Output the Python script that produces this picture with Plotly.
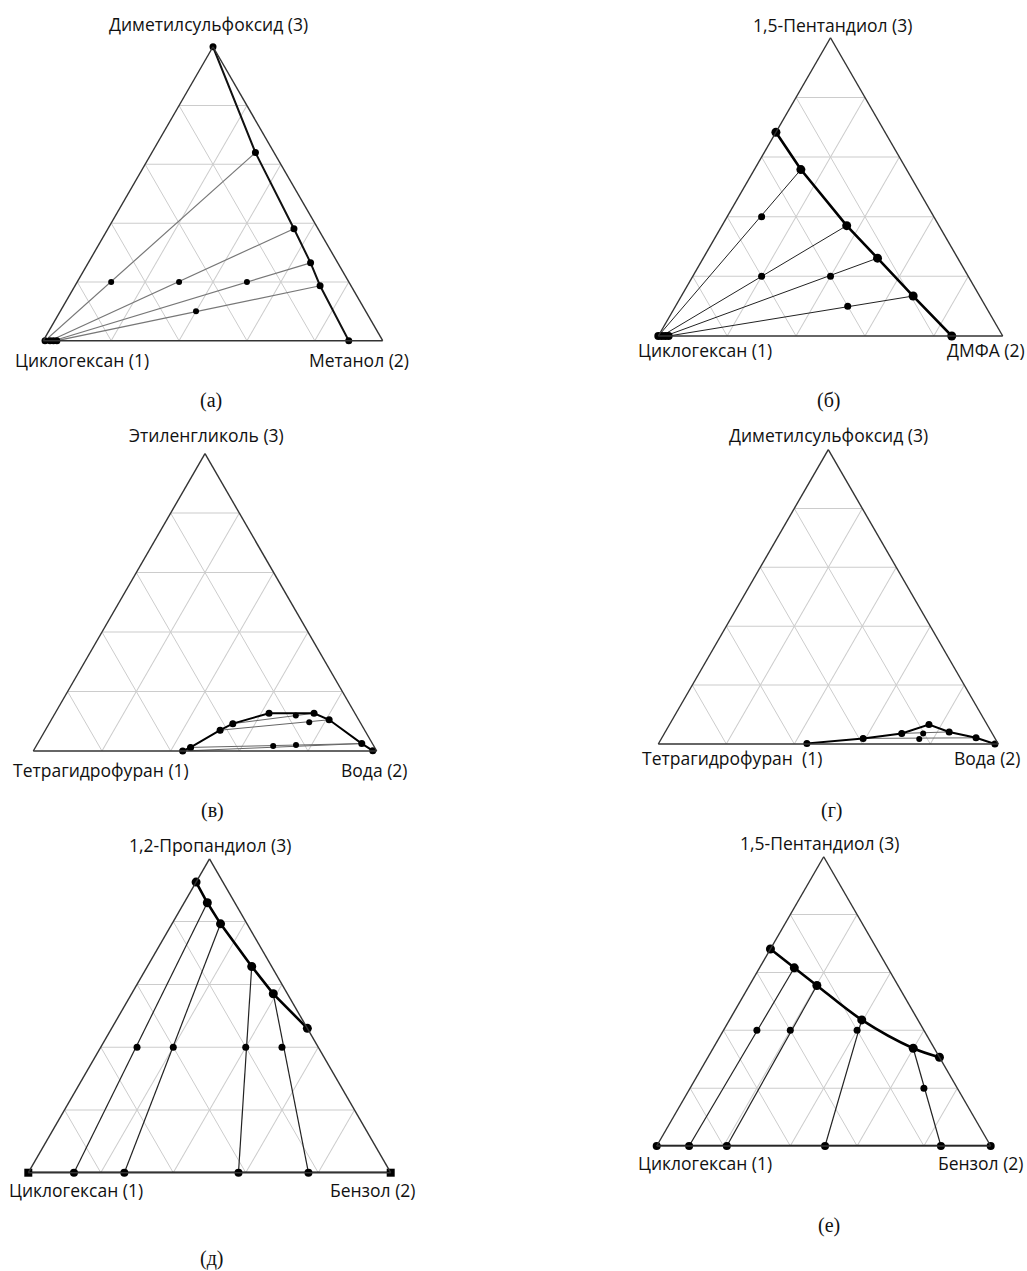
import plotly.graph_objects as go
import math

# ---------------- DATA (compositions as (x1, x2, x3) mole fractions) ----------------
# (а) Циклогексан(1) – Метанол(2) – Диметилсульфоксид(3)
A_BINODAL = [(0.0, 0.0, 1.0), (0.055, 0.305, 0.640), (0.071, 0.548, 0.381),
             (0.080, 0.655, 0.265), (0.091, 0.722, 0.187), (0.100, 0.900, 0.0)]
A_RAFF = [(0.995, 0.005, 0.0), (0.98, 0.02, 0.0), (0.97, 0.03, 0.0), (0.96, 0.04, 0.0)]
A_EXTR = [(0.055, 0.305, 0.640), (0.071, 0.548, 0.381), (0.080, 0.655, 0.265), (0.091, 0.722, 0.187)]
A_FEED = [(0.7, 0.1, 0.2), (0.5, 0.3, 0.2), (0.3, 0.5, 0.2), (0.5, 0.4, 0.1)]

# (б) Циклогексан(1) – ДМФА(2) – 1,5-Пентандиол(3)
B_BINODAL = [(0.317, 0.0, 0.683), (0.307, 0.135, 0.558), (0.268, 0.362, 0.370),
             (0.233, 0.506, 0.261), (0.193, 0.673, 0.134), (0.148, 0.852, 0.0)]
B_RAFF = [(1.0, 0.0, 0.0), (0.99, 0.01, 0.0), (0.98, 0.02, 0.0), (0.97, 0.03, 0.0)]
B_EXTR = [(0.307, 0.135, 0.558), (0.268, 0.362, 0.370), (0.233, 0.506, 0.261), (0.193, 0.673, 0.134)]
B_FEED = [(0.5, 0.1, 0.4), (0.6, 0.2, 0.2), (0.4, 0.4, 0.2), (0.4, 0.5, 0.1)]

# (в) Тетрагидрофуран(1) – Вода(2) – Этиленгликоль(3)
V_BINODAL = [(0.565, 0.435, 0.0), (0.536, 0.452, 0.012), (0.421, 0.509, 0.070),
             (0.373, 0.535, 0.092), (0.250, 0.623, 0.127), (0.119, 0.754, 0.127),
             (0.086, 0.809, 0.105), (0.031, 0.944, 0.025), (0.011, 0.988, 0.001)]
V_RAFF = [(0.565, 0.435, 0.0), (0.536, 0.452, 0.012), (0.421, 0.509, 0.070), (0.373, 0.535, 0.092)]
V_EXTR = [(0.031, 0.944, 0.025), (0.031, 0.944, 0.025), (0.086, 0.809, 0.105), (0.119, 0.754, 0.127)]
V_FEED = [(0.293, 0.690, 0.017), (0.225, 0.755, 0.020), (0.148, 0.755, 0.097), (0.176, 0.705, 0.119)]

# (г) Тетрагидрофуран(1) – Вода(2) – Диметилсульфоксид(3)
G_BINODAL = [(0.562, 0.436, 0.002), (0.388, 0.593, 0.019), (0.266, 0.698, 0.036),
             (0.171, 0.763, 0.066), (0.124, 0.835, 0.041), (0.055, 0.924, 0.021), (0.010, 0.990, 0.0)]
G_RAFF = [(0.388, 0.593, 0.019), (0.266, 0.698, 0.036)]
G_EXTR = [(0.055, 0.924, 0.021), (0.124, 0.835, 0.041)]
G_FEED = [(0.224, 0.759, 0.017), (0.203, 0.761, 0.036)]

# (д) Циклогексан(1) – Бензол(2) – 1,2-Пропандиол(3)
D_BINODAL = [(0.074, 0.0, 0.926), (0.076, 0.064, 0.860), (0.073, 0.134, 0.793),
             (0.055, 0.288, 0.657), (0.039, 0.391, 0.570), (0.0, 0.540, 0.460)]
D_BASE = [(1.0, 0.0, 0.0), (0.874, 0.126, 0.0), (0.735, 0.265, 0.0),
          (0.420, 0.580, 0.0), (0.227, 0.773, 0.0), (0.0, 1.0, 0.0)]
D_RAFF = [(0.874, 0.126, 0.0), (0.735, 0.265, 0.0), (0.420, 0.580, 0.0), (0.227, 0.773, 0.0)]
D_EXTR = [(0.076, 0.064, 0.860), (0.073, 0.134, 0.793), (0.055, 0.288, 0.657), (0.039, 0.391, 0.570)]
D_FEED = [(0.5, 0.1, 0.4), (0.4, 0.2, 0.4), (0.2, 0.4, 0.4), (0.1, 0.5, 0.4)]

# (е) Циклогексан(1) – Бензол(2) – 1,5-Пентандиол(3)
E_BINODAL = [(0.319, 0.0, 0.681), (0.280, 0.104, 0.616), (0.243, 0.202, 0.555),
             (0.168, 0.396, 0.436), (0.063, 0.599, 0.338), (0.0, 0.693, 0.307)]
E_BASE = [(1.0, 0.0, 0.0), (0.903, 0.097, 0.0), (0.790, 0.210, 0.0),
          (0.496, 0.504, 0.0), (0.149, 0.851, 0.0), (0.0, 1.0, 0.0)]
E_RAFF = [(0.903, 0.097, 0.0), (0.790, 0.210, 0.0), (0.496, 0.504, 0.0), (0.149, 0.851, 0.0)]
E_EXTR = [(0.280, 0.104, 0.616), (0.243, 0.202, 0.555), (0.168, 0.396, 0.436), (0.063, 0.599, 0.338)]
E_FEED = [(0.5, 0.1, 0.4), (0.4, 0.2, 0.4), (0.2, 0.4, 0.4), (0.1, 0.7, 0.2)]

# Labels: (top component 3, left component 1, right component 2, caption)
LABELS = [
    ("Диметилсульфоксид (3)", "Циклогексан (1)", "Метанол (2)", "(а)"),
    ("1,5-Пентандиол (3)", "Циклогексан (1)", "ДМФА (2)", "(б)"),
    ("Этиленгликоль (3)", "Тетрагидрофуран (1)", "Вода (2)", "(в)"),
    ("Диметилсульфоксид (3)", "Тетрагидрофуран  (1)", "Вода (2)", "(г)"),
    ("1,2-Пропандиол (3)", "Циклогексан (1)", "Бензол (2)", "(д)"),
    ("1,5-Пентандиол (3)", "Циклогексан (1)", "Бензол (2)", "(е)"),
]

# ---------------- LAYOUT GEOMETRY (pixels) ----------------
WPX, HPX = 1027, 1271
# (x_left, x_right, y_base) of each triangle
GEOM = [(43.3, 382.7, 340.7), (658.3, 1002.7, 336.0), (33.3, 376.7, 751.0),
        (658.3, 998.3, 744.0), (28.3, 390.7, 1172.7), (656.7, 990.7, 1146.0)]
# label positions: (top xy, left xy, right xy, caption xy)
LABPOS = [
    ((208, 24), (82, 360), (359, 360), (211, 400)),
    ((832, 25), (705, 350), (986, 350), (829, 400)),
    ((206, 435), (101, 770), (374, 770), (212, 810)),
    ((828, 435), (732, 758), (987, 758), (832, 810)),
    ((210, 845), (76, 1190), (372, 1190), (212, 1258)),
    ((819, 843), (705, 1163), (980, 1163), (829, 1225)),
]

LABEL_FONT = dict(family="Open Sans, Noto Sans, sans-serif", size=17.5, color="#111")
CAP_FONT = dict(family="Liberation Serif, DejaVu Serif, serif", size=20, color="#111")

fig = go.Figure()


def abc(pts):
    # a = component 3 (top), b = component 1 (left), c = component 2 (right)
    return [p[2] for p in pts], [p[0] for p in pts], [p[1] for p in pts]


def add_line(sub, pts, color="black", width=1.0, msize=0, symbol="circle", shape="linear"):
    a, b, c = abc(pts)
    mode = "lines+markers" if msize else "lines"
    fig.add_trace(go.Scatterternary(
        a=a, b=b, c=c, subplot=sub, mode=mode, cliponaxis=False,
        line=dict(color=color, width=width, shape=shape),
        marker=dict(size=msize, color="black", symbol=symbol),
        showlegend=False, hoverinfo="skip"))


def add_markers(sub, pts, msize, symbol="circle"):
    a, b, c = abc(pts)
    fig.add_trace(go.Scatterternary(
        a=a, b=b, c=c, subplot=sub, mode="markers", cliponaxis=False,
        marker=dict(size=msize, color="black", symbol=symbol),
        showlegend=False, hoverinfo="skip"))


def add_ties(sub, raff, extr, feed, color, width, fsize, rsize):
    for r, e in zip(raff, extr):
        add_line(sub, [r, e], color=color, width=width)
    add_markers(sub, feed, fsize)
    add_markers(sub, raff, rsize)


subs = ["ternary", "ternary2", "ternary3", "ternary4", "ternary5", "ternary6"]

# (а)
add_ties(subs[0], A_RAFF, A_EXTR, A_FEED, "#777", 1.2, 6, 7)
add_line(subs[0], A_BINODAL, color="#111", width=2.0, msize=7)
# (б)
add_ties(subs[1], B_RAFF, B_EXTR, B_FEED, "#222", 1.0, 7, 8)
add_line(subs[1], B_BINODAL, color="black", width=2.6, msize=9)
# (в)
add_ties(subs[2], V_RAFF, V_EXTR, V_FEED, "#666", 1.0, 6, 6)
add_line(subs[2], V_BINODAL, color="black", width=2.0, msize=7)
# (г)
add_ties(subs[3], G_RAFF, G_EXTR, G_FEED, "#666", 1.0, 6, 6)
add_line(subs[3], G_BINODAL, color="black", width=2.0, msize=7)
# (д)
add_ties(subs[4], D_RAFF, D_EXTR, D_FEED, "#222", 1.2, 7, 8)
add_line(subs[4], D_BASE, color="black", width=2.6, msize=0)
add_markers(subs[4], [D_BASE[0], D_BASE[-1]], 8, symbol="square")
add_line(subs[4], D_BINODAL, color="black", width=2.6, msize=9)
# (е)
add_ties(subs[5], E_RAFF, E_EXTR, E_FEED, "#222", 1.2, 7, 8)
add_line(subs[5], E_BASE, color="black", width=2.6, msize=0)
add_markers(subs[5], [E_BASE[0], E_BASE[-1]], 8)
add_line(subs[5], E_BINODAL, color="black", width=2.6, msize=9, shape="spline")

axis_style = dict(showticklabels=False, ticks="", showgrid=True, gridcolor="#cccccc",
                  gridwidth=1, dtick=0.2, showline=True, linecolor="#333333",
                  linewidth=1.4, min=0, title=dict(text=""))

layout_kw = {}
annotations = []
for i, (sub, (xl, xr, yb)) in enumerate(zip(subs, GEOM)):
    w = xr - xl
    h = w * math.sqrt(3) / 2
    ya = yb - h
    layout_kw[sub] = dict(
        sum=1, bgcolor="white",
        domain=dict(x=[xl / WPX, xr / WPX], y=[1 - yb / HPX, 1 - ya / HPX]),
        aaxis=axis_style, baxis=axis_style, caxis=axis_style)
    top, left, right, cap = LABELS[i]
    for txt, (px, py), fnt in zip((top, left, right, cap), LABPOS[i],
                                  (LABEL_FONT, LABEL_FONT, LABEL_FONT, CAP_FONT)):
        annotations.append(dict(text=txt, x=px / WPX, y=1 - py / HPX, xref="paper", yref="paper",
                                xanchor="center", yanchor="middle", showarrow=False, font=fnt))

fig.update_layout(
    width=WPX, height=HPX, margin=dict(l=0, r=0, t=0, b=0),
    paper_bgcolor="white", plot_bgcolor="white",
    annotations=annotations, **layout_kw)

fig.write_html("out.html", config={"displayModeBar": False},
               post_script="document.body.style.margin='0px';document.body.style.overflow='hidden';")
